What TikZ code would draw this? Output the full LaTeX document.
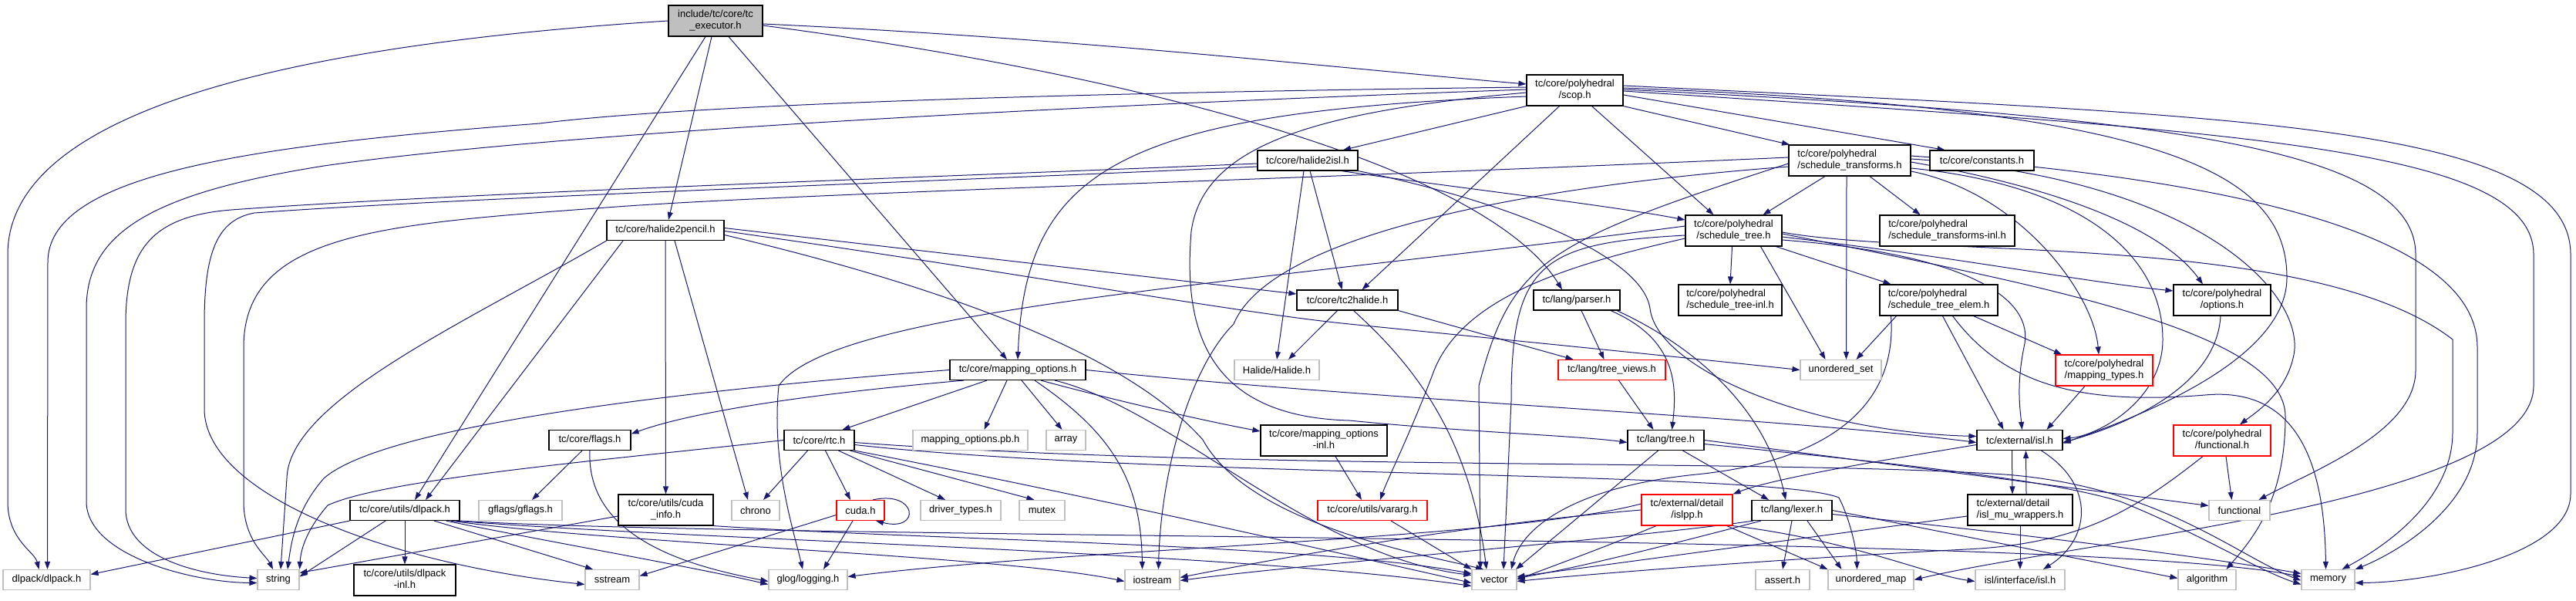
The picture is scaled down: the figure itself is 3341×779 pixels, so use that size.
\documentclass[tikz,border=0pt]{standalone}
\usepackage{fontspec}
\setmainfont{Liberation Sans}
\usetikzlibrary{arrows.meta}
\definecolor{edgec}{HTML}{191970}
\definecolor{gbord}{HTML}{BFBFBF}
\newcommand\twol[2]{\begin{tabular}{@{}l@{}}#1\\\multicolumn{1}{@{}c@{}}{#2}\end{tabular}}
\pgfdeclarelayer{bg}
\pgfsetlayers{bg,main}
\tikzset{
  nbase/.style={rectangle, inner sep=0pt, line width=1.15pt, fill=white, font=\fontsize{13}{15}\selectfont, text=black},
  nb/.style={nbase, draw=black},
  ng/.style={nbase, draw=gbord},
  nr/.style={nbase, draw=red},
  nroot/.style={nbase, draw=black, fill=gbord},
  box/.style 2 args={minimum width=#1pt, minimum height=#2pt},
  ed/.style={draw=edgec, line width=1pt, -{Triangle[length=10pt,width=7pt]}},
}
\begin{document}
\begin{tikzpicture}[x=1pt,y=-1pt]
\useasboundingbox (0,0) rectangle (3341,779);
% nodes
\node[nroot, box={122}{40}] (root) at (928,27) {\twol{include/tc/core/tc}{\_executor.h}};
\node[nb, box={125}{40}] (scop) at (2042.5,117) {\twol{tc/core/polyhedral}{/scop.h}};
\node[nb, box={130}{26}] (h2isl) at (1696,208) {tc/core/halide2isl.h};
\node[nb, box={158}{40}] (sxf) at (2399,208) {\twol{tc/core/polyhedral}{/schedule\_transforms.h}};
\node[nb, box={135}{26}] (const) at (2570.5,208) {tc/core/constants.h};
\node[nb, box={152}{26}] (h2p) at (863,298.5) {tc/core/halide2pencil.h};
\node[nb, box={125}{40}] (stree) at (2248.5,299) {\twol{tc/core/polyhedral}{/schedule\_tree.h}};
\node[nb, box={175}{40}] (sxfinl) at (2525.5,299) {\twol{tc/core/polyhedral}{/schedule\_transforms-inl.h}};
\node[nb, box={131}{26}] (tc2h) at (1747.5,389) {tc/core/tc2halide.h};
\node[nb, box={112}{26}] (parser) at (2045,389) {tc/lang/parser.h};
\node[nb, box={134}{40}] (streeinl) at (2244,389) {\twol{tc/core/polyhedral}{/schedule\_tree-inl.h}};
\node[nb, box={153}{40}] (selem) at (2514.5,389) {\twol{tc/core/polyhedral}{/schedule\_tree\_elem.h}};
\node[nb, box={126}{40}] (opts) at (2882,389) {\twol{tc/core/polyhedral}{/options.h}};
\node[nb, box={176}{26}] (mopts) at (1320,479.5) {tc/core/mapping\_options.h};
\node[ng, box={110}{26}] (halide) at (1656,479.5) {Halide/Halide.h};
\node[nr, box={139}{26}] (tviews) at (2090.5,479.5) {tc/lang/tree\_views.h};
\node[ng, box={105}{26}] (uset) at (2387.5,479.5) {unordered\_set};
\node[nr, box={126}{40}] (mtypes) at (2729,480) {\twol{tc/core/polyhedral}{/mapping\_types.h}};
\node[nb, box={106}{26}] (flags) at (765,570.5) {tc/core/flags.h};
\node[nb, box={91}{26}] (rtc) at (1062.5,570.5) {tc/core/rtc.h};
\node[ng, box={149}{26}] (pb) at (1258.5,570.5) {mapping\_options.pb.h};
\node[ng, box={51}{26}] (array) at (1382.5,570.5) {array};
\node[nb, box={164}{40}] (moptsinl) at (1717,571) {\twol{tc/core/mapping\_options}{-inl.h}};
\node[nb, box={99}{26}] (tree) at (2160.5,570.5) {tc/lang/tree.h};
\node[nb, box={111}{26}] (isl) at (2619.5,570.5) {tc/external/isl.h};
\node[nr, box={126}{40}] (pfunc) at (2882,571) {\twol{tc/core/polyhedral}{/functional.h}};
\node[nb, box={142}{26}] (dlp) at (525,661.5) {tc/core/utils/dlpack.h};
\node[ng, box={108}{26}] (gflags) at (675,661.5) {gflags/gflags.h};
\node[nb, box={123}{40}] (cinfo) at (863.5,661) {\twol{tc/core/utils/cuda}{\_info.h}};
\node[ng, box={62}{26}] (chrono) at (980,661.5) {chrono};
\node[nr, box={62}{26}] (cuda) at (1116,661.5) {cuda.h};
\node[ng, box={104}{26}] (drv) at (1246,661.5) {driver\_types.h};
\node[ng, box={59}{26}] (mutex) at (1351.5,661.5) {mutex};
\node[nr, box={142}{26}] (vararg) at (1780,661.5) {tc/core/utils/vararg.h};
\node[nr, box={118}{40}] (islpp) at (2188,661) {\twol{tc/external/detail}{/islpp.h}};
\node[nb, box={104}{26}] (lexer) at (2324,661.5) {tc/lang/lexer.h};
\node[nb, box={136}{40}] (mu) at (2620,661) {\twol{tc/external/detail}{/isl\_mu\_wrappers.h}};
\node[ng, box={79}{26}] (func) at (2904.5,661.5) {functional};
\node[ng, box={113}{26}] (dlpdlp) at (60.5,751.5) {dlpack/dlpack.h};
\node[ng, box={54}{26}] (string) at (361,751.5) {string};
\node[nb, box={132}{40}] (dlpinl) at (525,752) {\twol{tc/core/utils/dlpack}{-inl.h}};
\node[ng, box={70}{26}] (sstream) at (794,751.5) {sstream};
\node[ng, box={102}{26}] (glog) at (1048,751.5) {glog/logging.h};
\node[ng, box={71}{26}] (iostream) at (1494.5,751.5) {iostream};
\node[ng, box={58}{26}] (vector) at (1938,751.5) {vector};
\node[ng, box={70}{26}] (assert) at (2312,751.5) {assert.h};
\node[ng, box={111}{26}] (umap) at (2426.5,751.5) {unordered\_map};
\node[ng, box={116}{26}] (islint) at (2620,751.5) {isl/interface/isl.h};
\node[ng, box={75}{26}] (algo) at (2862.5,751.5) {algorithm};
\node[ng, box={69}{26}] (memory) at (3019.5,751.5) {memory};

\begin{pgfonlayer}{bg}
\fill[white] (0,0) rectangle (3341,779);
% root
\draw[ed] (root.west) .. controls (350,60) and (10,150) .. (10,330) -- (10,650) .. controls (10,700) and (45,715) .. ([xshift=-10pt]dlpdlp.north);
\draw[ed] ([xshift=-13pt]root.south) -- ([xshift=13pt]dlp.north);
\draw[ed] ([xshift=-5pt]root.south) -- ([xshift=4pt]h2p.north);
\draw[ed] ([xshift=17pt]root.south) -- ([xshift=-14pt]mopts.north);
\draw[ed] ([yshift=-4pt]root.east) .. controls (1400,50) and (1700,85) .. ([yshift=8pt]scop.west);
\draw[ed] ([yshift=-6pt]root.east) .. controls (1500,100) and (1930,220) .. ([xshift=-19pt]parser.north);
% scop
\draw[ed] (scop.south west) -- ([xshift=46pt]h2isl.north);
\draw[ed] (scop.south east) -- ([xshift=-78pt]sxf.north);
\draw[ed] ([yshift=-6pt]scop.east) -- ([xshift=-48pt]const.north);
\draw[ed] ([xshift=22pt]scop.south) -- ([xshift=-26pt]stree.north);
\draw[ed] ([xshift=-20pt]scop.south) -- ([xshift=19pt]tc2h.north);
\draw[ed] ([yshift=-8pt]scop.west) .. controls (1450,145) and (1330,220) .. (mopts.north);
\draw[ed] ([yshift=4pt]scop.west) .. controls (1400,120) and (900,135) .. (700,160) .. controls (300,190) and (62,230) .. (62,340) -- ([xshift=1pt]dlpdlp.north);
\draw[ed] ([yshift=1pt]scop.west) .. controls (1300,140) and (700,175) .. (420,215) .. controls (200,250) and (112,300) .. (112,400) -- (112,650) .. controls (112,720) and (250,755) .. ([yshift=-4pt]string.west);
\draw[ed] ([yshift=-3pt]scop.west) .. controls (1700,145) and (1560,190) .. (1545,300) .. controls (1535,420) and (1560,540) .. (1750,545) .. controls (1900,560) and (2050,565) .. ([yshift=-3pt]tree.west);
\draw[ed] ([yshift=3pt]scop.east) .. controls (2800,140) and (2966,220) .. (2966,360) .. controls (2966,470) and (2760,545) .. ([yshift=-4pt]isl.east);
\draw[ed] ([yshift=6pt]scop.east) .. controls (2900,150) and (3334,160) .. (3334,330) -- (3334,640) .. controls (3334,720) and (3150,755) .. ([yshift=-4pt]memory.east);
\draw[ed] ([yshift=1pt]scop.east) .. controls (2800,150) and (3133,190) .. (3133,330) -- (3133,480) .. controls (3133,560) and (3000,610) .. ([xshift=25pt]func.north);
\draw[ed] ([yshift=-1pt]scop.east) .. controls (2900,170) and (3286,190) .. (3286,330) -- (3286,500) .. controls (3286,650) and (2700,700) .. (umap.east);
% h2isl
\draw[ed] ([xshift=-5pt]h2isl.south) -- (halide.north);
\draw[ed] ([xshift=3pt]h2isl.south) -- ([xshift=-7pt]tc2h.north);
\draw[ed] ([xshift=44pt]h2isl.south) .. controls (1900,245) and (2080,265) .. ([yshift=14pt]stree.west);
\draw[ed] (h2isl.south east) .. controls (1950,260) and (2130,330) .. (2140,400) .. controls (2150,480) and (2350,560) .. ([yshift=5pt]isl.west);
\draw[ed] ([yshift=-4pt]h2isl.west) .. controls (1200,230) and (600,250) .. (300,272) .. controls (200,280) and (163,320) .. (163,420) -- (163,660) .. controls (163,720) and (250,745) .. ([yshift=2pt]string.west);
\draw[ed] ([yshift=-8pt]h2isl.west) .. controls (1200,236) and (600,256) .. (330,276) .. controls (280,285) and (265,330) .. (265,420) -- (265,530) .. controls (265,640) and (500,730) .. ([yshift=-6pt]sstream.west);
% sxf
\draw[ed] ([xshift=-32pt]sxf.south) -- ([xshift=38pt]stree.north);
\draw[ed] ([xshift=26pt]sxf.south) -- ([xshift=-35pt]sxfinl.north);
\draw[ed] ([xshift=-4pt]sxf.south) -- ([xshift=7pt]uset.north);
\draw[ed] ([yshift=-2pt]sxf.east) .. controls (2650,240) and (2800,290) .. ([xshift=-25pt]opts.north);
\draw[ed] ([yshift=-14pt]sxf.east) .. controls (2620,250) and (2715,380) .. ([xshift=-7pt]mtypes.north);
\draw[ed] ([yshift=2pt]sxf.east) .. controls (2850,230) and (2990,380) .. (2975,460) .. controls (2965,510) and (2925,535) .. ([xshift=23pt]pfunc.north);
\draw[ed] ([yshift=-10pt]sxf.east) .. controls (2700,240) and (2805,330) .. (2805,440) .. controls (2805,520) and (2720,565) .. ([yshift=2pt]isl.east);
\draw[ed] ([yshift=6pt]sxf.east) .. controls (3000,240) and (3213,330) .. (3213,450) -- (3213,560) .. controls (3213,660) and (3100,720) .. (memory.north east);
\draw[ed] ([yshift=-4pt]sxf.west) .. controls (2000,315) and (1960,340) .. (1918,500) -- ([xshift=-18pt]vector.north);
\draw[ed] ([yshift=4pt]sxf.west) .. controls (1700,232) and (1050,250) .. (800,268) .. controls (500,290) and (316,300) .. (316,450) -- (316,650) .. controls (316,700) and (345,720) .. ([xshift=-7pt]string.north);
\draw[ed] ([yshift=-8pt]sxf.west) .. controls (2000,240) and (1650,300) .. (1600,420) .. controls (1540,480) and (1505,620) .. ([xshift=8pt]iostream.north);
% h2p
\draw[ed] ([yshift=3pt]h2p.east) -- ([yshift=8pt]tc2h.west);
\draw[ed] ([yshift=-1pt]h2p.east) .. controls (1300,350) and (1600,405) .. (1750,420) .. controls (2000,445) and (2200,465) .. (uset.west);
\draw[ed] ([yshift=-6pt]h2p.east) .. controls (1300,390) and (1480,480) .. (1560,570) .. controls (1620,680) and (1850,720) .. ([xshift=-14pt]vector.north);
\draw[ed] (h2p.south) -- (cinfo.north);
\draw[ed] ([xshift=12pt]h2p.south) -- ([xshift=-10pt]chrono.north);
\draw[ed] ([xshift=-55pt]h2p.south) -- ([xshift=27pt]dlp.north);
\draw[ed] (h2p.south west) .. controls (600,420) and (375,520) .. (372,620) -- ([xshift=3pt]string.north);
% stree
\draw[ed] ([xshift=-2pt]stree.south) -- (streeinl.north);
\draw[ed] ([xshift=55pt]stree.south) -- ([xshift=-62pt]selem.north);
\draw[ed] ([xshift=35pt]stree.south) -- ([xshift=-20pt]uset.north);
\draw[ed] ([yshift=-8pt]stree.east) .. controls (2550,335) and (2700,365) .. ([yshift=12pt]opts.west);
\draw[ed] ([yshift=6pt]stree.west) .. controls (1600,370) and (1080,400) .. (1010,500) .. controls (1000,600) and (1030,690) .. ([xshift=-7pt]glog.north);
\draw[ed] ([yshift=-6pt]stree.west) .. controls (2000,315) and (1960,340) .. (1960,520) -- ([xshift=12pt]vector.north);
\draw[ed] ([yshift=-10pt]stree.west) .. controls (2050,340) and (1900,380) .. (1860,480) .. controls (1830,560) and (1800,620) .. ([xshift=10pt]vararg.north);
\draw[ed] ([yshift=-12pt]stree.east) .. controls (2560,330) and (2640,390) .. (2625,450) .. controls (2615,500) and (2620,530) .. ([xshift=3pt]isl.north);
\draw[ed] ([yshift=-2pt]stree.east) .. controls (2500,335) and (3000,300) .. (3181,440) -- (3181,560) .. controls (3181,650) and (3090,710) .. ([xshift=18pt]memory.north);
\draw[ed] ([yshift=-4pt]stree.east) .. controls (2650,370) and (2964,430) .. (2964,540) .. controls (2964,650) and (2920,700) .. ([xshift=25pt]algo.north);
% selem
\draw[ed] ([xshift=-55pt]selem.south) -- ([xshift=20pt]uset.north);
\draw[ed] ([xshift=45pt]selem.south) -- ([xshift=-55pt]mtypes.north);
\draw[ed] ([xshift=5pt]selem.south) -- ([xshift=-21pt]isl.north);
\draw[ed] ([xshift=-62pt]selem.south) .. controls (2462,540) and (2350,600) .. (2200,615) .. controls (2050,630) and (1975,680) .. ([xshift=22pt]vector.north);
\draw[ed] ([xshift=18pt]selem.south) .. controls (2600,500) and (2700,525) .. (2860,512) .. controls (2990,500) and (3015,620) .. ([xshift=-3pt]memory.north);
% mtypes, opts, pfunc
\draw[ed] ([xshift=-25pt]mtypes.south) -- ([xshift=35pt]isl.north);
\draw[ed] ([xshift=-2pt]opts.south) .. controls (2875,500) and (2760,550) .. ([yshift=-3pt]isl.east);
\draw[ed] ([xshift=5pt]pfunc.south) -- ([xshift=-10pt]func.north);
\draw[ed] ([xshift=-25pt]pfunc.south) .. controls (2770,660) and (2700,705) .. (2550,712) .. controls (2300,725) and (2050,745) .. ([yshift=-2pt]vector.east);
% isl, mu, islpp
\draw[ed] ([xshift=-10pt]isl.south) -- ([xshift=-10pt]mu.north);
\draw[ed] ([xshift=8pt]mu.north) -- ([xshift=8pt]isl.south);
\draw[ed] ([yshift=-6pt]isl.west) .. controls (2450,595) and (2300,620) .. (islpp.north east);
\draw[ed] ([xshift=28pt]isl.south) .. controls (2720,630) and (2710,700) .. ([xshift=30pt]islint.north);
\draw[ed] (mu.south) -- (islint.north);
\draw[ed] ([yshift=-8pt]mu.west) -- ([yshift=4pt]vector.east);
\draw[ed] ([xshift=-40pt]islpp.south) .. controls (2080,710) and (2010,735) .. (vector.east);
\draw[ed] (islpp.west) .. controls (1900,680) and (1650,725) .. ([yshift=3pt]iostream.east);
\draw[ed] ([xshift=-8pt]islpp.south east) -- (umap.north west);
\draw[ed] (islpp.south east) .. controls (2400,700) and (2500,745) .. ([yshift=-2pt]islint.west);
\draw[ed] ([yshift=8pt]islpp.west) .. controls (1950,700) and (1400,710) .. ([yshift=4pt]glog.east);
% lexer
\draw[ed] (lexer.south) -- (assert.north);
\draw[ed] ([xshift=20pt]lexer.south) -- ([xshift=-38pt]umap.north);
\draw[ed] ([xshift=-40pt]lexer.south) .. controls (2150,710) and (2050,735) .. ([yshift=2pt]vector.east);
\draw[ed] ([xshift=-50pt]lexer.south) .. controls (2100,700) and (1700,730) .. ([yshift=-1pt]iostream.east);
\draw[ed] (lexer.east) -- ([yshift=2pt]algo.west);
\draw[ed] ([yshift=-5pt]lexer.east) .. controls (2600,690) and (2850,720) .. ([yshift=8pt]memory.west);
% tree, tviews, parser
\draw[ed] ([xshift=22pt]tree.south) -- ([xshift=-30pt]lexer.north);
\draw[ed] ([xshift=-10pt]tree.south) -- ([xshift=28pt]vector.north);
\draw[ed] (tree.east) -- ([yshift=6pt]func.west);
\draw[ed] ([yshift=-5pt]tree.east) .. controls (2450,600) and (2650,620) .. (2750,650) .. controls (2850,690) and (2930,740) .. ([yshift=-6pt]memory.west);
\draw[ed] ([xshift=9pt]tviews.south) -- ([xshift=-16pt]tree.north);
\draw[ed] ([xshift=6pt]parser.south) -- ([xshift=-10pt]tviews.north);
\draw[ed] ([xshift=44pt]parser.south) .. controls (2175,440) and (2175,500) .. ([xshift=8pt]tree.north);
\draw[ed] ([xshift=52pt]parser.south) .. controls (2200,450) and (2290,530) .. ([xshift=-8pt]lexer.north);
% tc2h
\draw[ed] ([xshift=-13pt]tc2h.south) -- ([xshift=15pt]halide.north);
\draw[ed] (tc2h.south east) -- ([xshift=-50pt]tviews.north);
\draw[ed] ([xshift=8pt]tc2h.south) .. controls (1830,470) and (1905,560) .. ([xshift=-10pt]vector.north);
% mopts
\draw[ed] ([xshift=-70pt]mopts.south) .. controls (1000,515) and (880,540) .. ([yshift=8pt]flags.east);
\draw[ed] ([xshift=-40pt]mopts.south) -- ([xshift=30pt]rtc.north);
\draw[ed] ([xshift=-14pt]mopts.south) -- ([xshift=18pt]pb.north);
\draw[ed] ([xshift=5pt]mopts.south) -- ([xshift=-5pt]array.north);
\draw[ed] ([xshift=22pt]mopts.south) .. controls (1440,560) and (1480,620) .. ([xshift=-13pt]iostream.north);
\draw[ed] ([xshift=30pt]mopts.south) .. controls (1450,520) and (1560,545) .. ([yshift=12pt]moptsinl.west);
\draw[ed] ([xshift=48pt]mopts.south) .. controls (1520,530) and (1700,720) .. ([yshift=6pt]vector.west);
\draw[ed] (mopts.west) .. controls (900,505) and (500,550) .. (420,620) .. controls (385,660) and (378,700) .. ([xshift=12pt]string.north);
\draw[ed] (mopts.east) .. controls (1800,520) and (2300,540) .. ([yshift=-3pt]isl.west);
% rtc
\draw[ed] ([xshift=-15pt]rtc.south) -- ([xshift=10pt]chrono.north);
\draw[ed] ([xshift=8pt]rtc.south) -- ([xshift=-13pt]cuda.north);
\draw[ed] ([xshift=25pt]rtc.south) -- ([xshift=-20pt]drv.north);
\draw[ed] ([xshift=40pt]rtc.south) -- ([xshift=-10pt]mutex.north);
\draw[ed] (rtc.west) .. controls (800,595) and (500,620) .. (425,655) .. controls (395,690) and (390,715) .. (string.north east);
\draw[ed] (rtc.south east) .. controls (1400,640) and (1750,720) .. ([yshift=-4pt]vector.west);
\draw[ed] ([yshift=-3pt]rtc.east) .. controls (1600,610) and (2300,595) .. (2600,615) .. controls (2800,630) and (2900,720) .. ([yshift=-1pt]memory.west);
\draw[ed] ([yshift=-6pt]rtc.east) .. controls (1500,620) and (2300,610) .. (2385,645) .. controls (2398,670) and (2408,710) .. ([xshift=-18pt]umap.north);
% flags, moptsinl, vararg
\draw[ed] ([xshift=-10pt]flags.south) -- ([xshift=15pt]gflags.north);
\draw[ed] (flags.south) .. controls (760,700) and (900,735) .. ([yshift=-2pt]glog.west);
\draw[ed] ([xshift=15pt]moptsinl.south) -- ([xshift=-14pt]vararg.north);
\draw[ed] ([xshift=24pt]vararg.south) -- (vector.north west);
% dlp
\draw[ed] (dlp.south west) -- ([yshift=7pt]dlpdlp.east);
\draw[ed] ([xshift=-25pt]dlp.south) -- ([yshift=4pt]string.east);
\draw[ed] (dlp.south) -- (dlpinl.north);
\draw[ed] ([xshift=38pt]dlp.south) -- ([xshift=-25pt]sstream.north);
\draw[ed] ([xshift=-18pt]dlp.south east) .. controls (700,700) and (900,735) .. ([yshift=-6pt]glog.west);
\draw[ed] ([xshift=-12pt]dlp.south east) .. controls (800,705) and (1300,720) .. ([yshift=-2pt]iostream.west);
\draw[ed] ([xshift=-6pt]dlp.south east) .. controls (900,700) and (1600,715) .. ([yshift=-8pt]vector.west);
\draw[ed] (dlp.south east) .. controls (1000,700) and (2700,690) .. ([yshift=4pt]memory.west);
% cinfo, cuda
\draw[ed] ([yshift=-8pt]cinfo.west) -- ([yshift=9pt]string.east);
\draw[ed] (cinfo.south east) .. controls (1200,700) and (1700,705) .. ([yshift=8pt]vector.west);
\draw[ed] ([xshift=16pt]cuda.north) .. controls (1190,635) and (1195,690) .. ([xshift=20pt]cuda.south);
\draw[ed] ([yshift=-6pt]cuda.west) -- ([yshift=5pt]sstream.east);
\draw[ed] ([xshift=-10pt]cuda.south) -- ([xshift=20pt]glog.north);
\end{pgfonlayer}
\end{tikzpicture}
\end{document}
